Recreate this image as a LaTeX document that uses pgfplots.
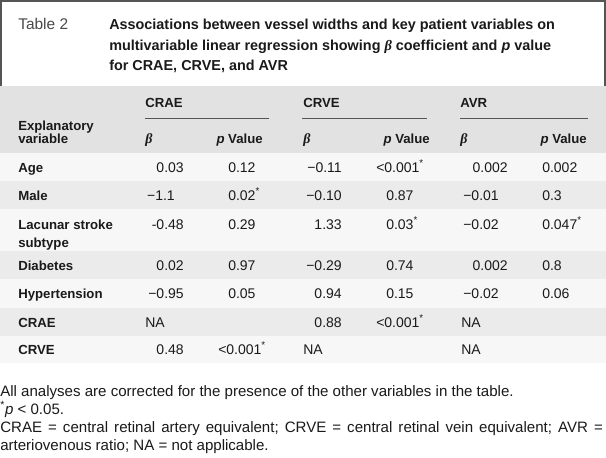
\documentclass[border=0pt]{standalone}
\usepackage{fontspec}
\setmainfont{Liberation Sans}
\newfontfamily\serifgr{Liberation Serif}
\usepackage{pgfplots}
\pgfplotsset{compat=1.18}
\definecolor{bordergray}{HTML}{555555}
\definecolor{headgray}{HTML}{E2E2E2}
\definecolor{stripegray}{HTML}{EBEBEB}
\definecolor{rowlight}{HTML}{F7F7F7}
\definecolor{txt}{HTML}{1A1A1A}
\definecolor{tabgray}{HTML}{4A4A4A}
\DeclareRobustCommand{\sig}{\textsuperscript{*}}
\DeclareRobustCommand{\semi}{;}
\DeclareRobustCommand{\pv}{\textit{p}~Value}
\newcommand{\bfont}{\fontsize{10.5}{12.6}\selectfont}
\newcommand{\lfont}{\fontsize{9.9}{12}\selectfont}
\newcommand{\ffont}{\fontsize{11.3}{13.5}\selectfont}
\DeclareRobustCommand{\bb}{{\serifgr\bfseries\itshape β}}
\pgfplotsset{
  vals/.style={only marks, mark=none, point meta=explicit symbolic, nodes near coords,
    every node near coord/.append style={anchor=base #1, inner sep=0pt, font=\bfont, text=txt}},
  labs/.style={only marks, mark=none, point meta=explicit symbolic, nodes near coords,
    every node near coord/.append style={anchor=base #1, inner sep=0pt, font=\lfont\bfseries, text=txt}},
}
\begin{document}
\begin{tikzpicture}
\begin{axis}[
  width=454.5pt, height=342.75pt, scale only axis,
  xmin=0, xmax=606, ymin=0, ymax=457, y dir=reverse,
  hide axis, clip=false,
]
% backgrounds
\fill[white] (axis cs:0,0) rectangle (axis cs:606,457);
\fill[headgray] (axis cs:0,86) rectangle (axis cs:606,153);
\fill[rowlight] (axis cs:0,153) rectangle (axis cs:606,181);
\fill[stripegray] (axis cs:0,181) rectangle (axis cs:606,209);
\fill[rowlight] (axis cs:0,209) rectangle (axis cs:606,251);
\fill[stripegray] (axis cs:0,251) rectangle (axis cs:606,279);
\fill[rowlight] (axis cs:0,279) rectangle (axis cs:606,308);
\fill[stripegray] (axis cs:0,308) rectangle (axis cs:606,336);
\fill[rowlight] (axis cs:0,336) rectangle (axis cs:606,363);
% title box
\draw[bordergray, line width=1.5pt] (axis cs:1,86) -- (axis cs:1,1) -- (axis cs:605,1) -- (axis cs:605,86);
% group underlines
\draw[bordergray, line width=0.75pt] (axis cs:145,118) -- (axis cs:269,118);
\draw[bordergray, line width=0.75pt] (axis cs:302,118) -- (axis cs:427,118);
\draw[bordergray, line width=0.75pt] (axis cs:460,118) -- (axis cs:588,118);
% title
\node[anchor=base west, inner sep=0pt, font=\fontsize{11.6}{13}\selectfont, text=tabgray] at (axis cs:18,29) {Table 2};
\node[anchor=base west, inner sep=0pt, font=\fontsize{10.8}{13}\selectfont\bfseries, text=txt] at (axis cs:109,29) {Associations between vessel widths and key patient variables on};
\node[anchor=base west, inner sep=0pt, font=\fontsize{10.8}{13}\selectfont\bfseries, text=txt] at (axis cs:109,50) {multivariable linear regression showing {\serifgr\itshape β} coefficient and \textit{p} value};
\node[anchor=base west, inner sep=0pt, font=\fontsize{10.8}{13}\selectfont\bfseries, text=txt] at (axis cs:109,70) {for CRAE, CRVE, and AVR};
% header
\addplot[labs=west] coordinates {(145,107) [CRAE] (303,107) [CRVE] (460,107) [AVR]
  (18,130) [Explanatory] (18,143) [variable]};
\addplot[vals=west] coordinates {(145,143) [\bb] (303,143) [\bb] (460,143) [\bb]};
\addplot[labs=east] coordinates {(263,143) [\pv] (430,143) [\pv] (587,143) [\pv]};
% row labels
\addplot[labs=west] coordinates {(18,172) [Age] (18,200) [Male] (18,229) [Lacunar stroke] (18,247) [subtype]
  (18,270) [Diabetes] (18,298) [Hypertension] (18,327) [CRAE] (18,354) [CRVE]};
% CRAE beta
\addplot[vals=east] coordinates {(184,172) [0.03] (175,200) [−1.1] (184,229) [-0.48] (184,270) [0.02] (184,298) [−0.95] (184,354) [0.48]};
% CRAE p
\addplot[vals=west] coordinates {(228,172) [0.12] (228,200) [0.02\sig] (228,229) [0.29] (228,270) [0.97] (228,298) [0.05] (218,354) [<0.001\sig]};
% CRVE beta
\addplot[vals=east] coordinates {(342,172) [−0.11] (342,200) [−0.10] (342,229) [1.33] (342,270) [−0.29] (342,298) [0.94] (342,327) [0.88]};
% CRVE p
\addplot[vals=west] coordinates {(376,172) [<0.001\sig] (386,200) [0.87] (386,229) [0.03\sig] (386,270) [0.74] (386,298) [0.15] (376,327) [<0.001\sig]};
% AVR beta
\addplot[vals=east] coordinates {(508,172) [0.002] (499,200) [−0.01] (499,229) [−0.02] (508,270) [0.002] (499,298) [−0.02]};
% AVR p
\addplot[vals=west] coordinates {(542,172) [0.002] (542,200) [0.3] (542,229) [0.047\sig] (542,270) [0.8] (542,298) [0.06]};
% NA entries
\addplot[vals=west] coordinates {(145,327) [NA] (303,354) [NA] (461,327) [NA] (461,354) [NA]};
% footnotes
\node[anchor=base west, inner sep=0pt, font=\ffont, text=txt] at (axis cs:0,396) {All analyses are corrected for the presence of the other variables in the table.};
\node[anchor=base west, inner sep=0pt, font=\ffont, text=txt] at (axis cs:0,414) {\sig\textit{p} < 0.05.};
\node[anchor=base west, inner sep=0pt, font=\ffont, text=txt] at (axis cs:0,432) {\makebox[452pt][s]{CRAE = central retinal artery equivalent\semi\ CRVE = central retinal vein equivalent\semi\ AVR =}};
\node[anchor=base west, inner sep=0pt, font=\ffont, text=txt] at (axis cs:0,450) {arteriovenous ratio\semi\ NA = not applicable.};
\end{axis}
\end{tikzpicture}
\end{document}
